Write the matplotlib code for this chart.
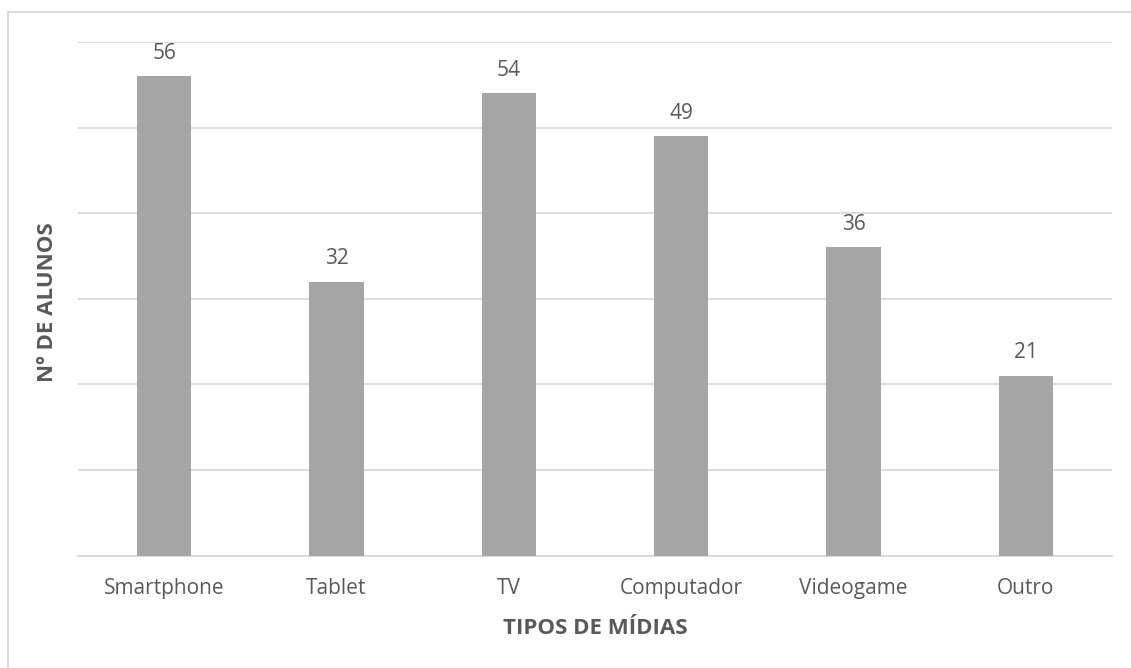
import matplotlib
matplotlib.use("Agg")
import matplotlib.pyplot as plt
from matplotlib.lines import Line2D

categories = ["Smartphone", "Tablet", "TV", "Computador", "Videogame", "Outro"]
values = [56, 32, 54, 49, 36, 21]
y_ticks = [0, 10, 20, 30, 40, 50, 60]

W, H = 1131, 668
fig = plt.figure(figsize=(W / 100, H / 100), dpi=100)
plt.rcParams["font.family"] = ["Open Sans", "DejaVu Sans"]

left, right, bottom, top = 78, 1112, 555.5, 42
ax = fig.add_axes([left / W, 1 - bottom / H, (right - left) / W, (bottom - top) / H])

bar_color = "#a5a5a5"
text_color = "#595959"
grid_color = "#d9d9d9"

x = range(len(categories))
bars = ax.bar(x, values, width=0.315, color=bar_color, zorder=3)

ax.set_xlim(-0.5, len(categories) - 0.5)
ax.set_ylim(0, 60)
ax.set_yticks(y_ticks)
ax.set_yticklabels([])
ax.tick_params(axis="y", length=0)
ax.grid(axis="y", color=grid_color, linewidth=1.3, zorder=0)
for s in ["top", "right", "left"]:
    ax.spines[s].set_visible(False)
ax.spines["bottom"].set_color(grid_color)
ax.spines["bottom"].set_linewidth(1.3)

ax.set_xticks(list(x))
ax.set_xticklabels(categories, fontsize=15, color=text_color)
ax.tick_params(axis="x", length=0, pad=16)

for b, v in zip(bars, values):
    ax.annotate(str(v), (b.get_x() + b.get_width() / 2, v), xytext=(0, 12.5),
                textcoords="offset points", ha="center", va="baseline",
                fontsize=15, color=text_color)

fig.text(595 / W, 1 - 634 / H, "TIPOS DE MÍDIAS", ha="center", va="baseline",
         fontsize=16, fontweight="bold", color=text_color)
fig.text(48 / W, 1 - 302 / H, "Nº DE ALUNOS", ha="center", va="center",
         rotation=90, fontsize=16, fontweight="bold", color=text_color)

# chart frame (left and top edges)
fig.add_artist(Line2D([8 / W, 8 / W], [0, 1 - 12 / H], transform=fig.transFigure,
                      color=grid_color, linewidth=1.3))
fig.add_artist(Line2D([8 / W, 1], [1 - 12 / H, 1 - 12 / H], transform=fig.transFigure,
                      color=grid_color, linewidth=1.3))

fig.savefig("out.png", dpi=100)
